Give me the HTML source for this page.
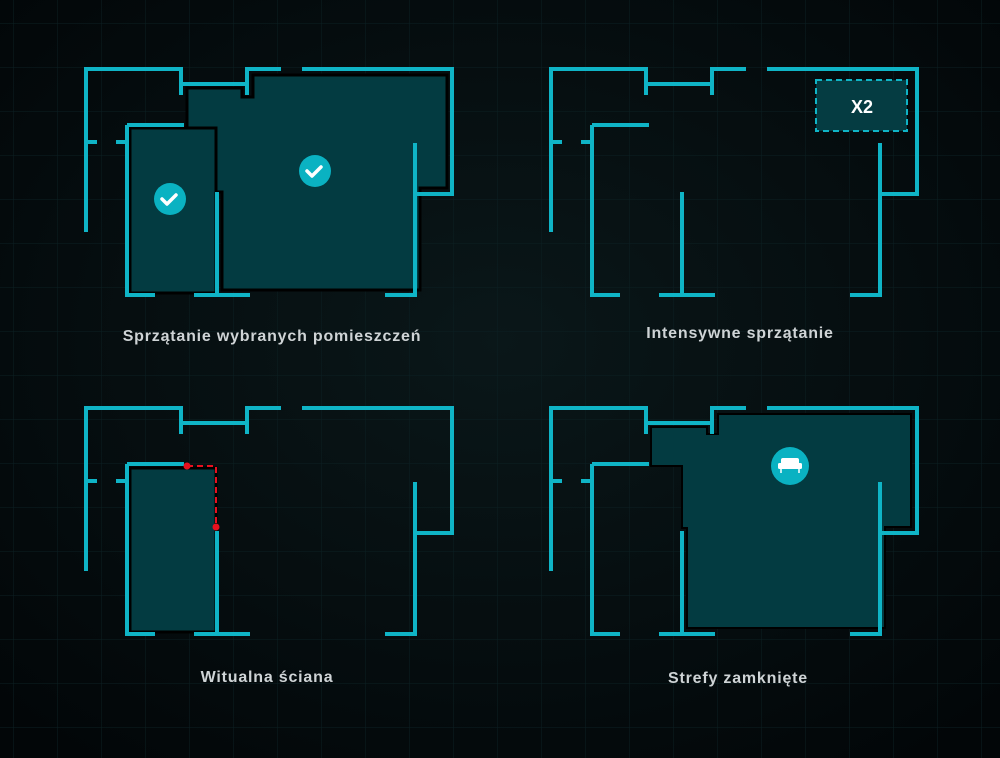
<!DOCTYPE html>
<html><head><meta charset="utf-8"><style>
html,body{margin:0;padding:0;background:#03090b;}
svg{display:block}
text{font-family:"Liberation Sans",sans-serif;}
</style></head><body>
<svg width="1000" height="758" viewBox="0 0 1000 758" xmlns="http://www.w3.org/2000/svg">
<defs>
<radialGradient id="bg" cx="0.5" cy="0.45" r="0.7">
<stop offset="0" stop-color="#0a1719"/><stop offset="1" stop-color="#020608"/>
</radialGradient>
<pattern id="grid" width="44" height="44" patternUnits="userSpaceOnUse" x="14" y="24">
<path d="M44,0 V44 M0,44 H44" stroke="#0c2023" stroke-width="1" fill="none"/>
</pattern>
<g id="walls" fill="none" stroke="#0fb4c6" stroke-width="4">
<path d="M86,232 V69 H181 V95"/><path d="M181,84 H247"/><path d="M247,95 V69 H281"/>
<path d="M302,69 H452 V194 H415"/><path d="M415,143 V297"/><path d="M385,295 H417"/>
<path d="M86,142 H97"/><path d="M116,142 H127"/><path d="M127,125 V295 H155"/><path d="M127,125 H184"/>
<path d="M194,295 H250"/><path d="M217,192 V295"/>
</g>
</defs>
<rect width="1000" height="758" fill="url(#bg)"/>
<rect width="1000" height="758" fill="url(#grid)"/>

<!-- TL -->
<path d="M187,88 H242 V97 H253 V75 H447 V188 H420 V290 H222 V192 H187 Z" fill="#033b41" stroke="#000" stroke-width="3"/>
<rect x="130" y="128" width="86" height="165" fill="#033b41" stroke="#000" stroke-width="3"/>
<use href="#walls"/>
<circle cx="170" cy="199" r="16" fill="#0ab2c2"/>
<path d="M162,199 l5,5 l9,-9" stroke="#fff" stroke-width="3.5" fill="none" stroke-linecap="round" stroke-linejoin="round"/>
<circle cx="315" cy="171" r="16" fill="#0ab2c2"/>
<path d="M307,171 l5,5 l9,-9" stroke="#fff" stroke-width="3.5" fill="none" stroke-linecap="round" stroke-linejoin="round"/>
<text x="272" y="341" text-anchor="middle" font-size="16" font-weight="bold" letter-spacing="0.8" fill="#cfd4d6">Sprzątanie wybranych pomieszczeń</text>

<!-- TR -->
<use href="#walls" transform="translate(465,0)"/>
<rect x="816" y="80" width="91" height="51" fill="#053c42" stroke="#0fb4c6" stroke-width="2" stroke-dasharray="6,4"/>
<text x="862" y="113" text-anchor="middle" font-size="18" font-weight="bold" fill="#fff">X2</text>
<text x="740" y="338" text-anchor="middle" font-size="16" font-weight="bold" letter-spacing="0.8" fill="#cfd4d6">Intensywne sprzątanie</text>

<!-- BL -->
<rect x="130" y="468" width="86" height="164" fill="#033b41" stroke="#000" stroke-width="3"/>
<use href="#walls" transform="translate(0,339)"/>
<path d="M187,466 H216 V527" stroke="#e8101e" stroke-width="2" fill="none" stroke-dasharray="6,4"/>
<circle cx="187" cy="466" r="3.5" fill="#e8101e"/>
<circle cx="216" cy="527" r="3.5" fill="#e8101e"/>
<text x="267" y="682" text-anchor="middle" font-size="16" font-weight="bold" letter-spacing="0.8" fill="#cfd4d6">Witualna ściana</text>

<!-- BR -->
<path d="M651,427 H707 V434 H718 V414 H911 V527 H885 V628 H687 V528 H682 V466 H651 Z" fill="#033b41" stroke="#000" stroke-width="2"/>
<use href="#walls" transform="translate(465,339)"/>
<circle cx="790" cy="466" r="19" fill="#0ab2c2"/>
<rect x="781" y="458" width="18" height="8" rx="2" fill="#fff"/>
<rect x="778" y="463" width="24" height="6" rx="1.5" fill="#fff"/>
<path d="M781,469 v4 M799,469 v4" stroke="#fff" stroke-width="1.5"/>
<text x="738" y="683" text-anchor="middle" font-size="16" font-weight="bold" letter-spacing="0.8" fill="#cfd4d6">Strefy zamknięte</text>
</svg>
</body></html>
